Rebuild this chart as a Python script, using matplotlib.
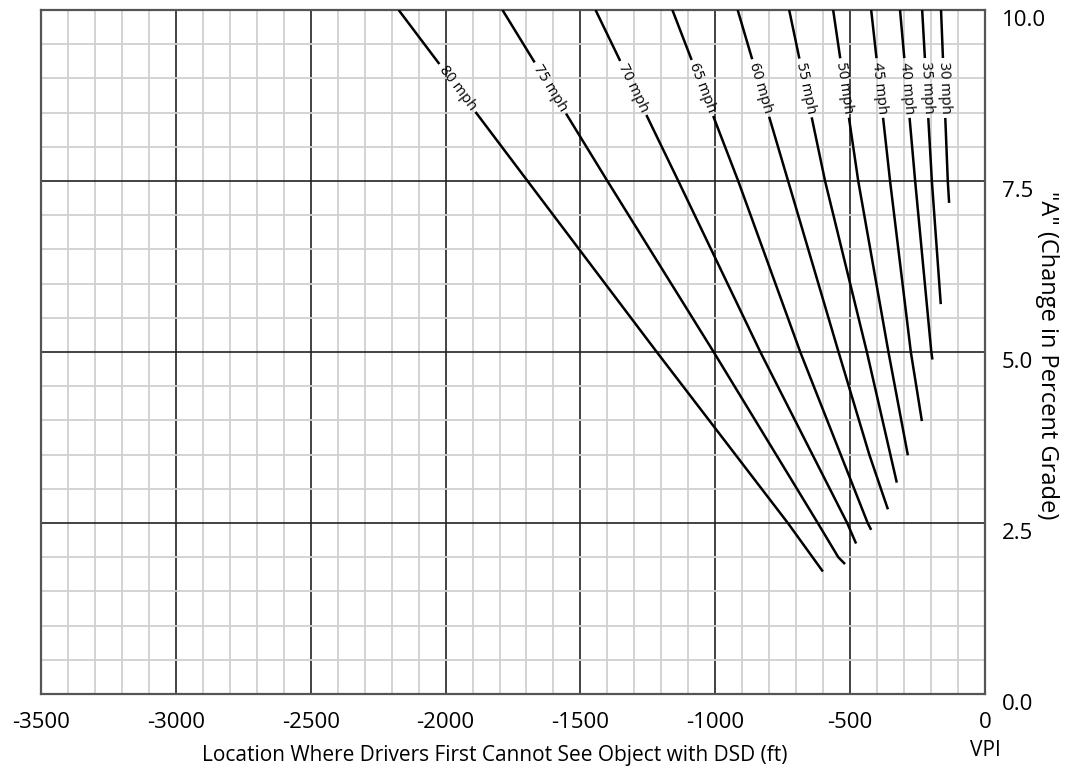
import numpy as np
import matplotlib
matplotlib.use("Agg")
import matplotlib.pyplot as plt

plt.rcParams['font.family'] = ['Open Sans', 'DejaVu Sans']

# Curves: x = location (ft from VPI), y = A (% grade change)
x_80 = [-2174, -1696, -1217, -731, -601]
y_80 = [10.0, 7.5, 5.0, 2.5, 1.79]
x_75 = [-1789, -1400, -1006, -620, -544, -519]
y_75 = [10.0, 7.5, 5.0, 2.5, 2.0, 1.90]
x_70 = [-1444, -1137, -833, -511, -478]
y_70 = [10.0, 7.5, 5.0, 2.5, 2.20]
x_65 = [-1159, -915, -685, -435, -422]
y_65 = [10.0, 7.5, 5.0, 2.5, 2.40]
x_60 = [-917, -730, -543, -429, -360]
y_60 = [10.0, 7.5, 5.0, 3.5, 2.70]
x_55 = [-726, -593, -438, -327]
y_55 = [10.0, 7.5, 5.0, 3.09]
x_50 = [-563, -470, -358, -286]
y_50 = [10.0, 7.5, 5.0, 3.49]
x_45 = [-422, -352, -275, -234]
y_45 = [10.0, 7.5, 5.0, 3.99]
x_40 = [-315, -259, -199, -195]
y_40 = [10.0, 7.5, 5.0, 4.89]
x_35 = [-233, -197, -164]
y_35 = [10.0, 7.5, 5.70]
x_30 = [-163, -138, -133]
y_30 = [10.0, 7.5, 7.18]

speeds = [80, 75, 70, 65, 60, 55, 50, 45, 40, 35, 30]
curves = {80: (x_80, y_80), 75: (x_75, y_75), 70: (x_70, y_70), 65: (x_65, y_65),
          60: (x_60, y_60), 55: (x_55, y_55), 50: (x_50, y_50), 45: (x_45, y_45),
          40: (x_40, y_40), 35: (x_35, y_35), 30: (x_30, y_30)}

x_ticks = [-3500, -3000, -2500, -2000, -1500, -1000, -500, 0]
x_tick_labels = ["-3500", "-3000", "-2500", "-2000", "-1500", "-1000", "-500", "0"]
y_ticks = [0, 2.5, 5.0, 7.5, 10.0]
y_tick_labels = ["0.0", "2.5", "5.0", "7.5", "10.0"]
label_y = 8.86


def draw_curve(ax, xs, ys, text, gap=60):
    xs = np.asarray(xs, float); ys = np.asarray(ys, float)
    xi = np.interp(label_y, ys[::-1], xs[::-1])
    to_px = ax.transData.transform
    to_data = ax.transData.inverted().transform
    c = to_px((xi, label_y))
    p1 = to_px((np.interp(label_y + 0.3, ys[::-1], xs[::-1]), label_y + 0.3))
    p2 = to_px((np.interp(label_y - 0.3, ys[::-1], xs[::-1]), label_y - 0.3))
    d = (p2 - p1) / np.hypot(*(p2 - p1))
    angle = np.degrees(np.arctan2(d[1], d[0]))
    top = to_data(c - gap / 2 * d)
    bot = to_data(c + gap / 2 * d)
    up = ys > top[1]
    lo = ys < bot[1]
    kw = dict(color="black", lw=1.8, solid_capstyle="butt", zorder=3)
    ax.plot(list(xs[up]) + [top[0]], list(ys[up]) + [top[1]], **kw)
    ax.plot([bot[0]] + list(xs[lo]), [bot[1]] + list(ys[lo]), **kw)
    ax.text(xi, label_y, text, rotation=angle, rotation_mode="anchor",
            ha="center", va="center", fontsize=10.5, zorder=4)


fig = plt.figure(figsize=(10.65, 7.7), dpi=100)
ax = fig.add_axes([41 / 1065, 1 - 694 / 770, (985 - 41) / 1065, 684 / 770])
ax.set_xlim(-3500, 0)
ax.set_ylim(0, 10)

ax.set_xticks(x_ticks)
ax.set_xticklabels(x_tick_labels, fontsize=16)
ax.set_xticks(np.arange(-3500, 1, 100), minor=True)
ax.yaxis.tick_right()
ax.set_yticks(y_ticks)
ax.set_yticklabels(y_tick_labels, fontsize=16)
ax.set_yticks(np.arange(0, 10.01, 0.5), minor=True)
ax.tick_params(which="both", length=0)
ax.tick_params(axis="x", pad=13)
ax.tick_params(axis="y", pad=12)
plt.setp(ax.get_yticklabels(), va="top")

ax.grid(which="minor", color="#d0d0d0", lw=1.3, zorder=0)
ax.grid(which="major", color="#222222", lw=1.2, zorder=1)
ax.set_axisbelow(True)
for s in ax.spines.values():
    s.set_color("#555555")
    s.set_linewidth(1.6)

for spd in speeds:
    cx, cy = curves[spd]
    draw_curve(ax, cx, cy, f"{spd} mph")

fig.text(495 / 1065, 1 - 755 / 770,
         "Location Where Drivers First Cannot See Object with DSD (ft)",
         ha="center", va="center", fontsize=15)
fig.text(985 / 1065, 1 - 751 / 770, "VPI", ha="center", va="center", fontsize=15)
fig.text(1047 / 1065, 1 - 355 / 770, '"A" (Change in Percent Grade)',
         ha="center", va="center", rotation=270, fontsize=17)

fig.savefig("out.png", dpi=100)
